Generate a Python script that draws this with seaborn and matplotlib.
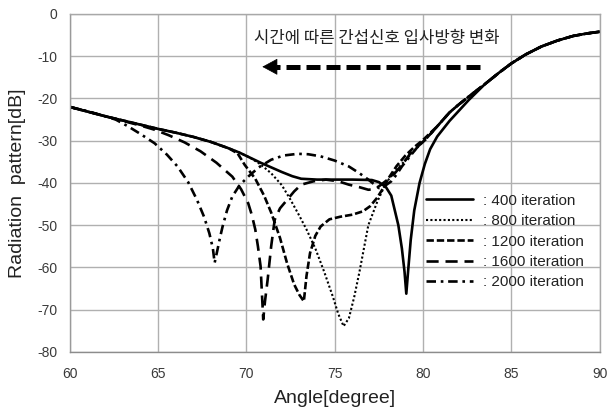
import matplotlib
matplotlib.use("Agg")
import matplotlib.pyplot as plt
import seaborn as sns
import pandas as pd

# ---- data ----
left_x = [60, 61, 62, 63, 64, 65, 66, 67, 68, 69]
left_y = [-22, -23.1, -24.2, -25.2, -26.2, -27.2, -28.1, -29.1, -30.3, -31.8]
right_x = [83.5, 84.3, 85.0, 85.8, 86.7, 87.6, 88.5, 89.3, 90.0]
right_y = [-16.6, -13.9, -11.7, -9.6, -7.7, -6.3, -5.2, -4.6, -4.2]
mid_x = [80.8, 81.5, 82.0, 82.6]          # merging segment of the later curves
mid_y = [-26.6, -23.3, -21.5, -19.5]

x400 = left_x + [69.6, 70.2, 70.8, 71.4, 72.0, 72.6, 73.1, 74.0, 75.0, 76.0, 77.1, 77.5, 77.9, 78.2,
                 78.6, 78.8, 78.95, 79.05, 79.15, 79.3, 79.5, 79.8, 80.1, 80.4, 80.8, 81.5, 82.6] + right_x
y400 = left_y + [-32.8, -34.0, -35.2, -36.3, -37.4, -38.4, -39.0, -39.2, -39.2, -39.2, -39.3, -39.8, -41.0, -43.0,
                 -50.0, -55.5, -61.0, -66.2, -61.0, -53.5, -46.5, -40.0, -35.5, -32.0, -29.0, -25.3, -20.3] + right_y

x800 = left_x + [69.6, 70.2, 70.8, 71.4, 72.0, 72.5, 73.0, 73.4, 73.9, 74.4, 74.9, 75.2, 75.5, 75.8,
                 76.1, 76.4, 76.9, 77.4, 77.9, 78.4, 78.8, 79.3, 79.7, 80.1] + mid_x + right_x
y800 = left_y + [-32.8, -34.0, -35.6, -37.7, -40.5, -44.0, -47.8, -51.0, -55.5, -61.0, -67.0, -71.0, -73.9, -72.0,
                 -67.0, -61.0, -50.0, -44.5, -40.0, -37.3, -35.5, -33.3, -31.5, -29.8] + mid_y + right_y

x1200 = left_x + [69.5, 69.9, 70.5, 71.0, 71.4, 71.9, 72.3, 72.7, 73.0, 73.25, 73.4, 73.6, 73.9, 74.2,
                  74.7, 75.3, 76.0, 76.6, 77.0, 77.4, 77.7, 78.1, 78.5, 79.0, 79.5, 80.0] + mid_x + right_x
y1200 = left_y + [-33.0, -35.7, -39.0, -43.0, -47.0, -53.0, -59.0, -64.0, -66.5, -68.0, -62.0, -56.6, -52.5, -50.3,
                  -48.6, -48.0, -47.5, -46.7, -45.5, -43.5, -41.5, -38.5, -36.0, -33.5, -31.5, -29.8] + mid_y + right_y

x1600 = [60, 61, 62, 63, 64, 64.8, 65.6, 66.5, 67.4, 68.3, 69.2, 69.7, 70.1, 70.3, 70.5, 70.65, 70.8, 70.95,
         71.05, 71.2, 71.4, 71.6, 71.9, 72.3, 72.7, 73.1, 73.8, 74.5, 75.2, 75.8, 76.4, 76.9, 77.2, 77.5,
         77.9, 78.4, 78.9, 79.3, 79.8, 80.2] + mid_x + right_x
y1600 = [-22, -23.1, -24.2, -25.3, -26.4, -27.4, -28.7, -30.4, -32.5, -35.2, -38.5, -41.5, -44.8, -47.5, -51.0,
         -55.0, -59.7, -72.3, -68.0, -62.9, -55.0, -48.7, -46.0, -44.0, -42.0, -40.4, -39.6, -39.2, -39.6,
         -40.4, -41.0, -41.6, -41.5, -40.8, -39.5, -37.7, -35.2, -32.9, -31.0, -29.5] + mid_y + right_y

x2000 = [60, 61, 62, 62.6, 63.3, 64.0, 64.8, 65.5, 66.1, 66.7, 67.2, 67.6, 67.9, 68.1, 68.2, 68.35, 68.5,
         68.65, 68.9, 69.2, 69.6, 70.1, 70.7, 71.4, 72.1, 72.9, 73.5, 74.2, 75.0, 75.8, 76.4, 76.9, 77.2,
         77.5, 77.8, 78.2, 78.5, 78.8, 79.2, 79.7, 80.2] + mid_x + right_x
y2000 = [-22, -23.0, -24.2, -25.0, -26.6, -28.4, -30.6, -33.3, -36.1, -39.8, -44.0, -48.0, -51.9, -55.5, -58.9,
         -56.0, -53.0, -50.3, -46.5, -43.2, -40.6, -38.5, -36.3, -34.5, -33.5, -33.1, -33.2, -33.7, -34.7,
         -36.1, -37.7, -39.2, -40.2, -41.2, -40.8, -39.6, -38.0, -36.1, -34.0, -31.4, -29.4] + mid_y + right_y

series_labels = [": 400 iteration", ": 800 iteration", ": 1200 iteration", ": 1600 iteration", ": 2000 iteration"]
series_x = [x400, x800, x1200, x1600, x2000]
series_y = [y400, y800, y1200, y1600, y2000]

x_ticks = [60, 65, 70, 75, 80, 85, 90]
y_ticks = [0, -10, -20, -30, -40, -50, -60, -70, -80]
annotation = "시간에 따른 간섭신호 입사방향 변화"
x_label = "Angle[degree]"
y_label = "Radiation  pattern[dB]"

# ---- styles ----
styles = [
    dict(linestyle="-", linewidth=1.9),
    dict(linestyle=(0, (1, 1.1)), linewidth=1.5),
    dict(linestyle=(0, (2.8, 1.1)), linewidth=1.9),
    dict(linestyle=(0, (4.6, 2.6)), linewidth=1.9),
    dict(linestyle=(0, (3.6, 1.8, 1, 1.8)), linewidth=1.9),
]

sns.set_theme(style="white")
plt.rcParams["font.family"] = ["Liberation Sans", "Noto Sans CJK KR", "DejaVu Sans"]
plt.rcParams["axes.unicode_minus"] = False

fig = plt.figure(figsize=(6.07, 4.11), dpi=100)
ax = fig.add_axes([0.115, 0.1436, 0.873, 0.8224])

frames = []
for lab, xs, ys in zip(series_labels, series_x, series_y):
    frames.append(pd.DataFrame({"angle": xs, "db": ys, "series": lab}))
df = pd.concat(frames, ignore_index=True)

for lab, st in zip(series_labels, styles):
    sub = df[df["series"] == lab]
    sns.lineplot(data=sub, x="angle", y="db", ax=ax, color="black", sort=False,
                 estimator=None, label=lab, **st)

ax.set_xlim(60, 90)
ax.set_ylim(-80, 0)
ax.set_xticks(x_ticks)
ax.set_yticks(y_ticks)
ax.grid(True, color="#b0b0b0", linewidth=1.0)
ax.set_axisbelow(True)
for sp in ax.spines.values():
    sp.set_color("#a8a8a8")
    sp.set_linewidth(1.0)
ax.spines["bottom"].set_color("#8c8c8c")
ax.spines["left"].set_color("#9a9a9a")
ax.tick_params(axis="both", length=3, color="#a8a8a8", labelsize=10, labelcolor="#3a3a3a")
ax.tick_params(axis="x", pad=8)
ax.tick_params(axis="y", pad=6)
ax.set_xlabel(x_label, fontsize=14, color="#222222", labelpad=6)
ax.set_ylabel(y_label, fontsize=14, color="#222222", labelpad=8)

ax.text(77.4, -5.7, annotation, ha="center", va="center", fontsize=12,
        family=["Noto Sans CJK KR", "DejaVu Sans"], color="#222222")

# dashed arrow
ax.plot([83.2, 71.7], [-12.5, -12.5], color="black", linewidth=3.6, linestyle=(0, (2.8, 1.2)),
        dash_capstyle="butt")
ax.annotate("", xy=(70.9, -12.5), xytext=(71.9, -12.5),
            arrowprops=dict(arrowstyle="-|>,head_length=0.5,head_width=0.27", mutation_scale=20,
                            color="black", lw=0.5, shrinkA=0, shrinkB=0))

leg = ax.legend(loc="upper left", bbox_to_anchor=(0.672, 0.468), frameon=False, fontsize=11,
                handlelength=3.1, handletextpad=0.65, labelspacing=0.42, borderaxespad=0, borderpad=0)
for t in leg.get_texts():
    t.set_color("#222222")

fig.savefig("out.png", dpi=100)
